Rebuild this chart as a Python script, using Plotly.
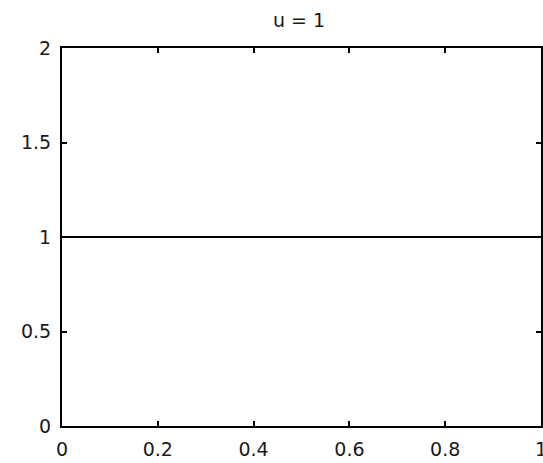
import plotly.graph_objects as go

x_vals = [0, 1]
y_vals = [1, 1]
x_ticks = [0, 0.2, 0.4, 0.6, 0.8, 1]
x_tick_labels = ["0", "0.2", "0.4", "0.6", "0.8", "1"]
y_ticks = [0, 0.5, 1, 1.5, 2]
y_tick_labels = ["0", "0.5", "1", "1.5", "2"]
title_text = "u = 1"

FONT = "DejaVu Sans, Liberation Sans, Arial"

fig = go.Figure()
fig.add_trace(go.Scatter(x=x_vals, y=y_vals, mode="lines",
                         line=dict(color="black", width=1.8), showlegend=False))

axis_common = dict(showline=True, linecolor="black", linewidth=2, mirror="ticks",
                   ticks="inside", ticklen=5, tickcolor="black", tickwidth=1.5,
                   showgrid=False, zeroline=False, automargin=False,
                   ticklabeloverflow="allow",
                   tickfont=dict(family=FONT, size=19, color="#1a1a1a"))

fig.update_layout(
    width=543, height=463,
    margin=dict(l=62, r=2, t=48, b=37, autoexpand=False),
    paper_bgcolor="white", plot_bgcolor="white",
    title=dict(text=title_text, x=299 / 543, xanchor="center",
               y=1 - 20 / 463, yanchor="middle",
               font=dict(family=FONT, size=19, color="#1a1a1a")),
    xaxis=dict(range=[0, 1], tickvals=x_ticks, ticktext=x_tick_labels,
               ticklabelstandoff=5, **axis_common),
    yaxis=dict(range=[0, 2], tickvals=y_ticks, ticktext=y_tick_labels,
               ticklabelstandoff=5, **axis_common),
)

fig.write_html("out.html", config={"displayModeBar": False},
               post_script="document.body.style.margin='0';")
